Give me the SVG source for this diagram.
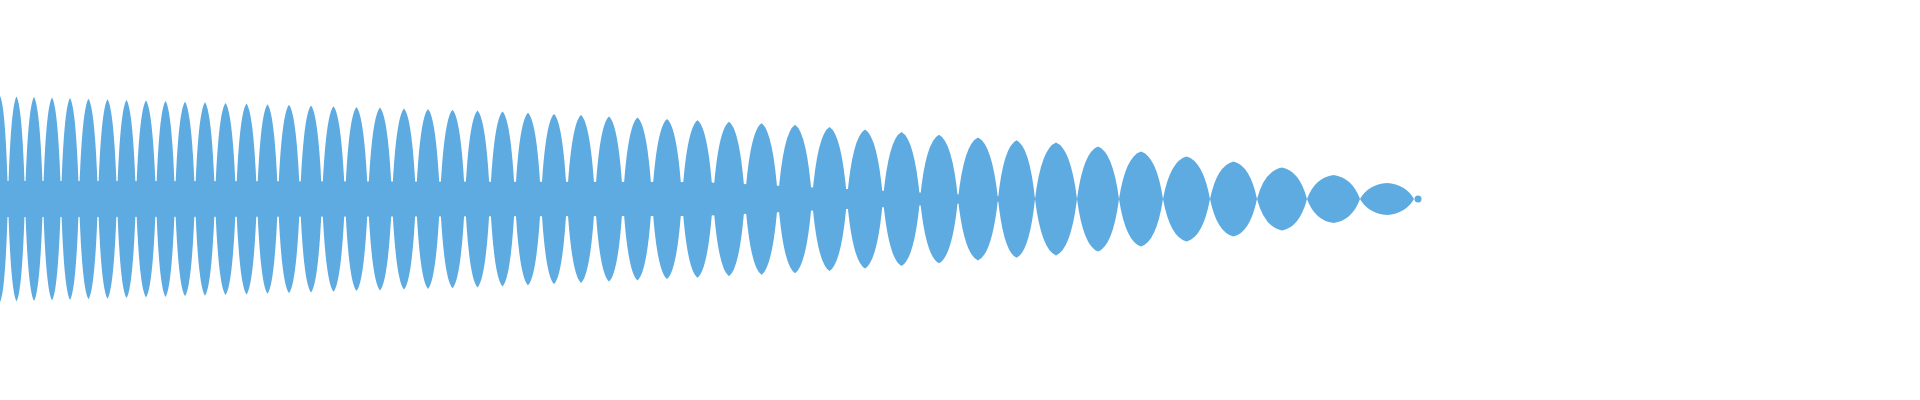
<svg xmlns="http://www.w3.org/2000/svg" xmlns:xlink="http://www.w3.org/1999/xlink" width="1920" height="400" viewBox="0 0 1920 400">
<defs>
<path id="L" d="M0 0 Q0.15 -0.9 0.5 -1 Q0.85 -0.9 1 0 Q0.85 0.9 0.5 1 Q0.15 0.9 0 0Z"/>
<style>use,polygon,circle{fill:#5dabe1}</style>
</defs>
<rect width="1920" height="400" fill="#fff"/>
<polygon points="0,181 700,182 1035,198 1035,200 700,216 0,217"/>
<g>
<use xlink:href="#L" transform="translate(-8,199) scale(16,103)"/>
<use xlink:href="#L" transform="translate(8,199) scale(17,102.5)"/>
<use xlink:href="#L" transform="translate(25,199) scale(18,102)"/>
<use xlink:href="#L" transform="translate(43,199) scale(18,101.4)"/>
<use xlink:href="#L" transform="translate(61,199) scale(18,100.9)"/>
<use xlink:href="#L" transform="translate(79,199) scale(19,100.3)"/>
<use xlink:href="#L" transform="translate(98,199) scale(19,99.7)"/>
<use xlink:href="#L" transform="translate(117,199) scale(19,99.1)"/>
<use xlink:href="#L" transform="translate(136,199) scale(20,98.5)"/>
<use xlink:href="#L" transform="translate(156,199) scale(19,97.9)"/>
<use xlink:href="#L" transform="translate(175,199) scale(20,97.3)"/>
<use xlink:href="#L" transform="translate(195,199) scale(20,96.7)"/>
<use xlink:href="#L" transform="translate(215,199) scale(21,96.1)"/>
<use xlink:href="#L" transform="translate(236,199) scale(21,95.5)"/>
<use xlink:href="#L" transform="translate(257,199) scale(21,94.8)"/>
<use xlink:href="#L" transform="translate(278,199) scale(22,94.2)"/>
<use xlink:href="#L" transform="translate(300,199) scale(22,93.5)"/>
<use xlink:href="#L" transform="translate(322,199) scale(23,92.8)"/>
<use xlink:href="#L" transform="translate(345,199) scale(23,92.1)"/>
<use xlink:href="#L" transform="translate(368,199) scale(24,91.4)"/>
<use xlink:href="#L" transform="translate(392,199) scale(24,90.6)"/>
<use xlink:href="#L" transform="translate(416,199) scale(24,89.9)"/>
<use xlink:href="#L" transform="translate(440,199) scale(25,89.2)"/>
<use xlink:href="#L" transform="translate(465,199) scale(25,88.4)"/>
<use xlink:href="#L" transform="translate(490,199) scale(25,87.4)"/>
<use xlink:href="#L" transform="translate(515,199) scale(26,86.3)"/>
<use xlink:href="#L" transform="translate(541,199) scale(26,85.1)"/>
<use xlink:href="#L" transform="translate(567,199) scale(28,83.9)"/>
<use xlink:href="#L" transform="translate(595,199) scale(28,82.6)"/>
<use xlink:href="#L" transform="translate(623,199) scale(29,81.4)"/>
<use xlink:href="#L" transform="translate(652,199) scale(30,80)"/>
<use xlink:href="#L" transform="translate(682,199) scale(31,78.7)"/>
<use xlink:href="#L" transform="translate(713,199) scale(32,77.3)"/>
<use xlink:href="#L" transform="translate(745,199) scale(33,75.8)"/>
<use xlink:href="#L" transform="translate(778,199) scale(34,74.2)"/>
<use xlink:href="#L" transform="translate(812,199) scale(35,72)"/>
<use xlink:href="#L" transform="translate(847,199) scale(36,69.5)"/>
<use xlink:href="#L" transform="translate(883,199) scale(37,67)"/>
<use xlink:href="#L" transform="translate(920,199) scale(38,64.3)"/>
<use xlink:href="#L" transform="translate(958,199) scale(40,61.5)"/>
<use xlink:href="#L" transform="translate(998,199) scale(37,58.8)"/>
<use xlink:href="#L" transform="translate(1035,199) scale(42,56.4)"/>
<use xlink:href="#L" transform="translate(1077,199) scale(42,52.5)"/>
<use xlink:href="#L" transform="translate(1119,199) scale(44,47.5)"/>
<use xlink:href="#L" transform="translate(1163,199) scale(47,42.5)"/>
<use xlink:href="#L" transform="translate(1210,199) scale(47,37.5)"/>
<use xlink:href="#L" transform="translate(1257,199) scale(50,31.5)"/>
<use xlink:href="#L" transform="translate(1307,199) scale(53,24)"/>
<use xlink:href="#L" transform="translate(1360,199) scale(54,16)"/>
<circle cx="1418" cy="199" r="3.5"/>
</g>
</svg>
